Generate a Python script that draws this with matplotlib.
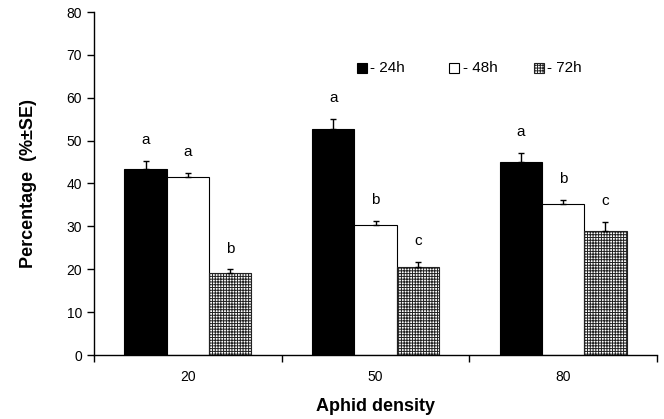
import matplotlib
matplotlib.use("Agg")
import matplotlib.pyplot as plt
import numpy as np
from matplotlib.patches import Rectangle

plt.rcParams['font.family'] = ['Liberation Sans', 'DejaVu Sans']
plt.rcParams['hatch.linewidth'] = 0.7

categories = ["20", "50", "80"]
series_names = ["- 24h", "- 48h", "- 72h"]
vals_24 = [43.3, 52.8, 45.0]
vals_48 = [41.6, 30.3, 35.3]
vals_72 = [19.2, 20.6, 29.0]
err_24 = [2.0, 2.2, 2.2]
err_48 = [0.8, 1.0, 0.9]
err_72 = [0.8, 1.2, 2.0]
let_24 = ["a", "a", "a"]
let_48 = ["a", "b", "b"]
let_72 = ["b", "c", "c"]

fig = plt.figure(figsize=(6.64, 4.19), dpi=100)
ax = fig.add_axes([94 / 664, 1 - 355 / 419, 563 / 664, 343 / 419])

x = np.arange(len(categories))
w = 0.2255
styles = [dict(facecolor='black', edgecolor='black'),
          dict(facecolor='white', edgecolor='black'),
          dict(facecolor='white', edgecolor='#222222', hatch='++++++')]
data = [(vals_24, err_24, let_24), (vals_48, err_48, let_48), (vals_72, err_72, let_72)]
for i, (v, e, l) in enumerate(data):
    pos = x + (i - 1) * w
    ax.bar(pos, v, w, linewidth=0.8, zorder=2, **styles[i])
    ax.errorbar(pos, v, yerr=[np.zeros(len(e)), e], fmt='none', ecolor='black',
                elinewidth=1.0, capsize=2.5, capthick=1.0, zorder=3)
    for p, val, err, lt in zip(pos, v, e, l):
        ax.text(p, val + err + 3.2, lt, ha='center', va='bottom', fontsize=11)

ax.set_xlim(-0.5, 2.5)
ax.set_ylim(0, 80)
ax.set_yticks(range(0, 81, 10))
ax.set_xticks(x)
ax.set_xticklabels(categories)
ax.tick_params(axis='x', length=0, pad=11, labelsize=10)
ax.set_xticks([-0.5, 0.5, 1.5, 2.5], minor=True)
ax.tick_params(axis='x', which='minor', length=5, direction='out', width=1)
ax.tick_params(axis='y', length=5, direction='out', width=1, labelsize=10)
for s in ['top', 'right']:
    ax.spines[s].set_visible(False)
for s in ['left', 'bottom']:
    ax.spines[s].set_linewidth(1)

ax.set_ylabel("Percentage  (%±SE)", fontsize=13, fontweight='bold', labelpad=21)
ax.set_xlabel("Aphid density", fontsize=13, fontweight='bold', labelpad=10)

# custom legend
leg_x = [0.467, 0.631, 0.781]
leg_y = 0.837
sq_w = 10 / 563
sq_h = 10 / 343
for i, name in enumerate(series_names):
    r = Rectangle((leg_x[i], leg_y - sq_h / 2), sq_w, sq_h, transform=ax.transAxes,
                  linewidth=0.8, clip_on=False, **styles[i])
    ax.add_patch(r)
    ax.text(leg_x[i] + sq_w + 0.006, leg_y, name, transform=ax.transAxes, ha='left',
            va='center', fontsize=11)

fig.savefig("out.png", dpi=100)
